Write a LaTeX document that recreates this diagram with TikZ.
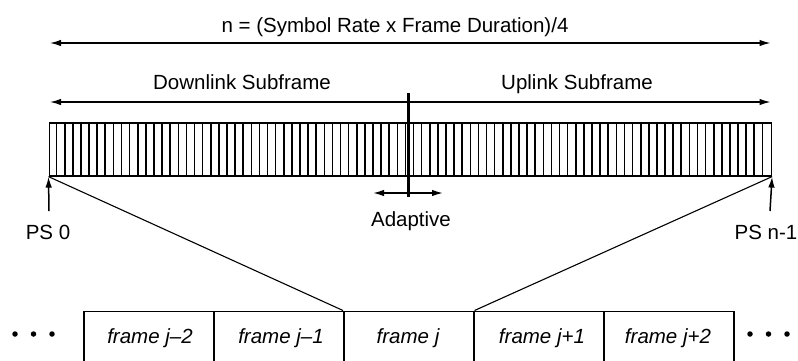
\documentclass[tikz,border=0pt]{standalone}
\usepackage{fontspec}
\setmainfont{Liberation Sans}
\usetikzlibrary{arrows.meta}
\begin{document}
\begin{tikzpicture}[x=1pt,y=-1pt,
  lbl/.style={font=\fontsize{20.5}{24}\selectfont, inner sep=0pt, anchor=base},
  flbl/.style={font=\fontsize{20.5}{24}\selectfont\itshape, inner sep=0pt, anchor=base},
  tip/.tip={Latex[length=11pt,width=6.5pt]},
  dimline/.style={line width=1.4pt, tip-tip},
  oneway/.style={line width=1.5pt, -tip},
  stripe/.style={line width=1.6pt},
  barbox/.style={draw, line width=1.6pt, minimum width=722pt, minimum height=53pt, inner sep=0pt, anchor=north west},
  framebox/.style={draw, line width=1.5pt, minimum width=130pt, minimum height=70pt, inner sep=0pt, anchor=north west},
  dotnode/.style={circle, fill=black, minimum size=5.5pt, inner sep=0pt},
  diag/.style={line width=1.1pt}]
\useasboundingbox (0,0) rectangle (798,360);
\fill[white] (0,0) rectangle (798,360);

% overall length arrow
\coordinate (tl) at (50,43);
\coordinate (tr) at (770.5,43);
\draw[dimline] (tl) -- (tr);
\node[lbl] (title) at (395,32) {n = (Symbol Rate x Frame Duration)/4};

% subframe arrow
\coordinate (sl) at (50,102);
\coordinate (sr) at (770.5,102);
\draw[dimline] (sl) -- (sr);
\node[lbl] (dl) at (242,89) {Downlink Subframe};
\node[lbl] (ul) at (577,89) {Uplink Subframe};

% symbol bar
\node[barbox] (bar) at (48.5,122) {};
\foreach \i in {1,...,88}{
  \pgfmathsetmacro\xx{48.5+\i*8.1124}
  \draw[stripe] (\xx,122) -- (\xx,175);
}

% adaptive boundary
\coordinate (adtop) at (408,93);
\coordinate (adbot) at (408,197);
\draw[line width=3pt] (adtop) -- (adbot);
\coordinate (adc) at (408,193);
\coordinate (adl) at (373,193);
\coordinate (adr) at (443,193);
\draw[oneway] (adc) -- (adl);
\draw[oneway] (adc) -- (adr);
\node[lbl] (adapt) at (411,226) {Adaptive};

% PS markers
\coordinate (ps0b) at (49,211);
\draw[oneway] (ps0b) -- (bar.south west);
\node[lbl] (ps0) at (48,239) {PS 0};
\coordinate (psnb) at (770,211);
\draw[oneway] (psnb) -- (bar.south east);
\node[lbl] (psn) at (766,239) {PS n-1};

% frame boxes
\node[framebox] (f1) at (83,310.5) {};
\node[framebox] (f2) at (213,310.5) {};
\node[framebox] (f3) at (343,310.5) {};
\node[framebox] (f4) at (473,310.5) {};
\node[framebox] (f5) at (603,310.5) {};
\node[flbl] at (150,343) {frame j–2};
\node[flbl] at (281,343) {frame j–1};
\node[flbl] at (408,343) {frame j};
\node[flbl] at (542,343) {frame j+1};
\node[flbl] at (668,343) {frame j+2};

% zoom lines
\draw[diag] (bar.south west) -- (f3.north west);
\draw[diag] (bar.south east) -- (f3.north east);

% ellipsis dots
\node[dotnode] (d1) at (15,334) {};
\node[dotnode] (d2) at (33.5,334) {};
\node[dotnode] (d3) at (52,334) {};
\node[dotnode] (d4) at (750,334) {};
\node[dotnode] (d5) at (768.5,334) {};
\node[dotnode] (d6) at (787,334) {};
\end{tikzpicture}
\end{document}
